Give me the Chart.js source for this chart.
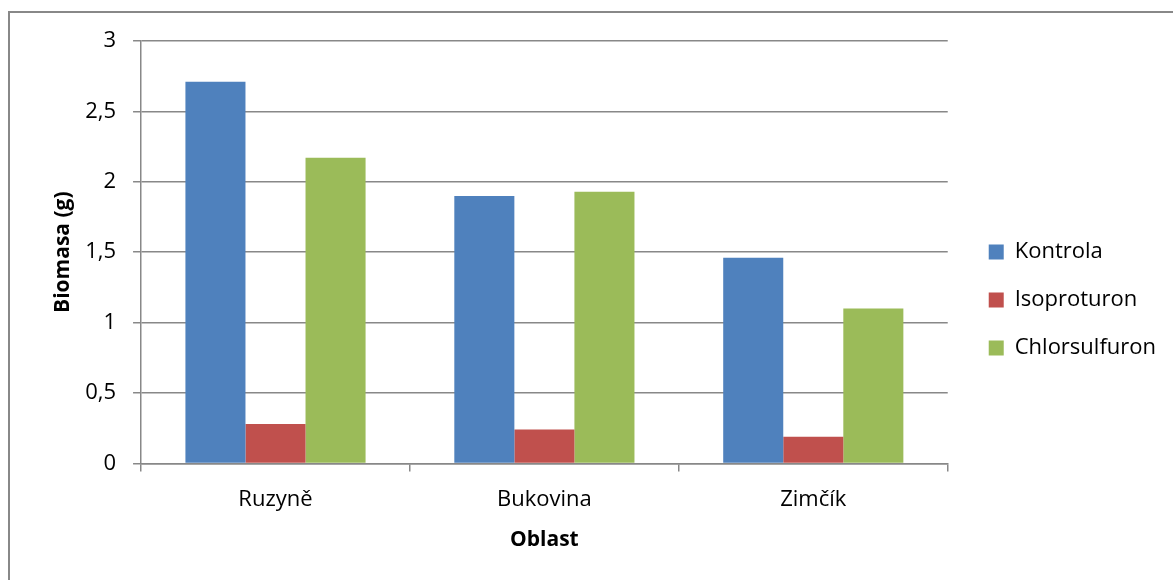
<!DOCTYPE html>
<html>
<head>
<meta charset="utf-8">
<script src="https://cdn.jsdelivr.net/npm/chart.js@4"></script>
<style>
  html, body { margin: 0; padding: 0; background: #fff; }
  body { width: 1173px; height: 580px; position: relative; overflow: hidden; }
  #frame { position: absolute; left: 8px; top: 11px; width: 1400px; height: 800px;
           border-left: 2px solid #888; border-top: 2px solid #888; }
  #wrap { position: absolute; left: 0; top: 0; width: 1173px; height: 580px; }
</style>
</head>
<body>
<div id="frame"></div>
<div id="wrap"><canvas id="c" width="1173" height="580"></canvas></div>
<script>
const categories = ['Ruzyně', 'Bukovina', 'Zimčík'];
const seriesNames = ['Kontrola', 'Isoproturon', 'Chlorsulfuron'];
const kontrola = [2.71, 1.90, 1.46];
const isoproturon = [0.28, 0.24, 0.19];
const chlorsulfuron = [2.17, 1.93, 1.10];
const colors = ['#4F81BD', '#C0504D', '#9BBB59'];

const FONT = '"Open Sans", "DejaVu Sans", sans-serif';
const SIZE = 22;
const TITLE_SIZE = 21;
const gridColor = '#888888';

function draw() {
  new Chart(document.getElementById('c'), {
    type: 'bar',
    data: {
      labels: categories,
      datasets: [kontrola, isoproturon, chlorsulfuron].map((vals, i) => ({
        label: seriesNames[i],
        data: vals,
        backgroundColor: colors[i],
        borderWidth: 0,
        categoryPercentage: 0.67,
        barPercentage: 1.0
      }))
    },
    options: {
      responsive: false,
      animation: false,
      devicePixelRatio: 1,
      layout: { padding: { left: 50, right: 7, top: 41, bottom: 25 } },
      plugins: {
        tooltip: { enabled: false },
        legend: {
          position: 'right',
          align: 'center',
          title: { display: true, text: '', font: { size: 1 }, padding: { top: 3, bottom: 0 } },
          labels: {
            boxWidth: 15,
            boxHeight: 15,
            padding: 26,
            color: '#000',
            font: { family: FONT, size: SIZE }
          }
        }
      },
      scales: {
        x: {
          grid: { offset: true, drawOnChartArea: false, color: gridColor, lineWidth: 1.5, tickLength: 8 },
          border: { color: gridColor, width: 1.5 },
          ticks: { color: '#000', font: { family: FONT, size: SIZE }, padding: 15 },
          title: { display: true, text: 'Oblast', color: '#000',
                   font: { family: FONT, size: TITLE_SIZE, weight: 'bold' }, padding: { top: 0, bottom: 2 } }
        },
        y: {
          min: 0, max: 3,
          grid: { color: gridColor, lineWidth: 1.5, tickLength: 8 },
          border: { color: gridColor, width: 1.5 },
          ticks: {
            stepSize: 0.5, color: '#000', padding: 17,
            font: { family: FONT, size: SIZE },
            callback: v => String(v).replace('.', ',')
          },
          title: { display: true, text: 'Biomasa (g)', color: '#000',
                   font: { family: FONT, size: TITLE_SIZE, weight: 'bold' }, padding: { top: 0, bottom: -7 } }
        },
        // hidden strip that keeps space between the plot and the legend
        gap: {
          type: 'linear',
          position: 'right',
          display: false,
          afterFit: s => { s.width = 15; }
        }
      }
    }
  });
}

// measure text only once the fonts are ready
Promise.all([
  document.fonts.load(SIZE + 'px "Open Sans"'),
  document.fonts.load('bold ' + TITLE_SIZE + 'px "Open Sans"')
]).catch(() => {}).then(draw);
</script>
</body>
</html>
